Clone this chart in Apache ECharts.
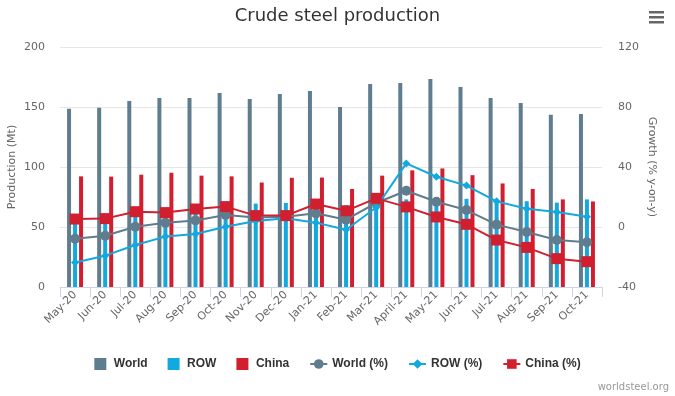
<!DOCTYPE html>
<html>
<head>
<meta charset="utf-8">
<script src="https://cdn.jsdelivr.net/npm/echarts@6/dist/echarts.min.js"></script>
<style>
  html, body { margin: 0; padding: 0; background: #fff; }
  #chart { width: 675px; height: 396px; }
</style>
</head>
<body>
<div id="chart"></div>
<script>
// months
const categories = ["May-20", "Jun-20", "Jul-20", "Aug-20", "Sep-20", "Oct-20", "Nov-20", "Dec-20", "Jan-21",
  "Feb-21", "Mar-21", "April-21", "May-21", "Jun-21", "Jul-21", "Aug-21", "Sep-21", "Oct-21"];
// production, Mt
const world = [148.5, 149.3, 155, 157.5, 157.5, 161.7, 156.7, 160.8, 163.3, 150, 169.2, 170, 173.3, 166.7, 157.5, 153.3, 143.5, 144.2];
const row = [56.5, 57.5, 61.5, 62.5, 64.7, 69.5, 69.5, 70, 72, 68, 76, 73, 74.5, 73.5, 71.3, 71.5, 70.3, 73];
const china = [92.2, 92, 93.6, 95.2, 92.8, 92.2, 87.1, 91, 91.2, 81.7, 92.8, 97.2, 98.8, 93.2, 86.3, 81.7, 73, 71.3];
// growth, % y-on-y
const worldPct = [-7.8, -5.8, 0.2, 2.9, 4.4, 8, 6.4, 6.9, 9.1, 4.9, 16, 24.2, 16.8, 11.3, 1.6, -3.3, -8.7, -10.2];
const rowPct = [-23.6, -19.1, -12, -6.4, -4.7, 0.2, 4, 5.8, 2.9, -1.8, 13, 42.4, 33.5, 27.6, 17.1, 12.2, 10, 6.9];
const chinaPct = [5.3, 5.6, 10.2, 9.6, 12, 13.6, 7.6, 7.6, 15.3, 10.8, 19.1, 13.4, 6.7, 1.8, -8.7, -13.6, -21.1, -23.1];

const cWorld = "#5f7d8e";
const cRow = "#12a9df";
const cChina = "#d11f30";
const font = "DejaVu Sans";
const barIcon = "path://M0,0h12v12h-12z";

const option = {
  backgroundColor: "#fff",
  animation: false,
  title: {
    text: "Crude steel production",
    left: "center",
    top: 2,
    textStyle: { fontFamily: font, fontSize: 18, fontWeight: "normal", color: "#333" }
  },
  graphic: [
    { type: "rect", left: 649, top: 11, shape: { width: 15, height: 2.5 }, style: { fill: "#666" } },
    { type: "rect", left: 649, top: 16, shape: { width: 15, height: 2.5 }, style: { fill: "#666" } },
    { type: "rect", left: 649, top: 21, shape: { width: 15, height: 2.5 }, style: { fill: "#666" } },
    {
      type: "text", right: 6, bottom: 4,
      style: { text: "worldsteel.org", fontFamily: font, fontSize: 10, fill: "#999" }
    }
  ],
  grid: { left: 60, right: 73, top: 47, bottom: 109, outerBoundsMode: "none", containLabel: false },
  legend: {
    top: 353,
    left: "center",
    itemGap: 20,
    itemWidth: 17,
    itemHeight: 12,
    textStyle: { fontFamily: "Liberation Sans", fontSize: 12, fontWeight: "bold", color: "#333" },
    data: [
      { name: "World", icon: barIcon },
      { name: "ROW", icon: barIcon },
      { name: "China", icon: barIcon },
      "World (%)", "ROW (%)", "China (%)"
    ]
  },
  xAxis: {
    type: "category",
    data: categories,
    axisLine: { lineStyle: { color: "#ccd6eb" } },
    axisTick: { show: true, length: 10, lineStyle: { color: "#ccd6eb" } },
    axisLabel: { interval: 0, rotate: 45, margin: 6, fontFamily: font, fontSize: 11, color: "#666" }
  },
  yAxis: [
    {
      type: "value",
      min: 0, max: 200, interval: 50,
      name: "Production (Mt)",
      nameLocation: "middle",
      nameGap: 42,
      nameMoveOverlap: false,
      nameTextStyle: { fontFamily: font, fontSize: 11, color: "#666" },
      axisLabel: { margin: 15, fontFamily: font, fontSize: 11, color: "#666" },
      splitLine: { lineStyle: { color: "#e6e6e6" } }
    },
    {
      type: "value",
      min: -40, max: 120, interval: 40,
      name: "Growth (% y-on-y)",
      nameLocation: "middle",
      nameGap: 44,
      nameRotate: -90,
      nameMoveOverlap: false,
      nameTextStyle: { fontFamily: font, fontSize: 11, color: "#666" },
      axisLabel: { margin: 16, fontFamily: font, fontSize: 11, color: "#666" },
      splitLine: { show: false }
    }
  ],
  series: [
    { name: "World", type: "bar", barWidth: 4, barGap: "50%", itemStyle: { color: cWorld }, data: world },
    { name: "ROW", type: "bar", barWidth: 4, barGap: "50%", itemStyle: { color: cRow }, data: row },
    { name: "China", type: "bar", barWidth: 4, barGap: "50%", itemStyle: { color: cChina }, data: china },
    {
      name: "World (%)", type: "line", yAxisIndex: 1, symbol: "circle", symbolSize: 10,
      lineStyle: { color: cWorld, width: 2 }, itemStyle: { color: cWorld }, data: worldPct
    },
    {
      name: "ROW (%)", type: "line", yAxisIndex: 1, symbol: "diamond", symbolSize: 8,
      lineStyle: { color: cRow, width: 2 }, itemStyle: { color: cRow }, data: rowPct
    },
    {
      name: "China (%)", type: "line", yAxisIndex: 1, symbol: "rect", symbolSize: 11,
      lineStyle: { color: cChina, width: 2 }, itemStyle: { color: cChina }, data: chinaPct
    }
  ]
};

const myChart = echarts.init(document.getElementById("chart"));
myChart.setOption(option);
</script>
</body>
</html>
